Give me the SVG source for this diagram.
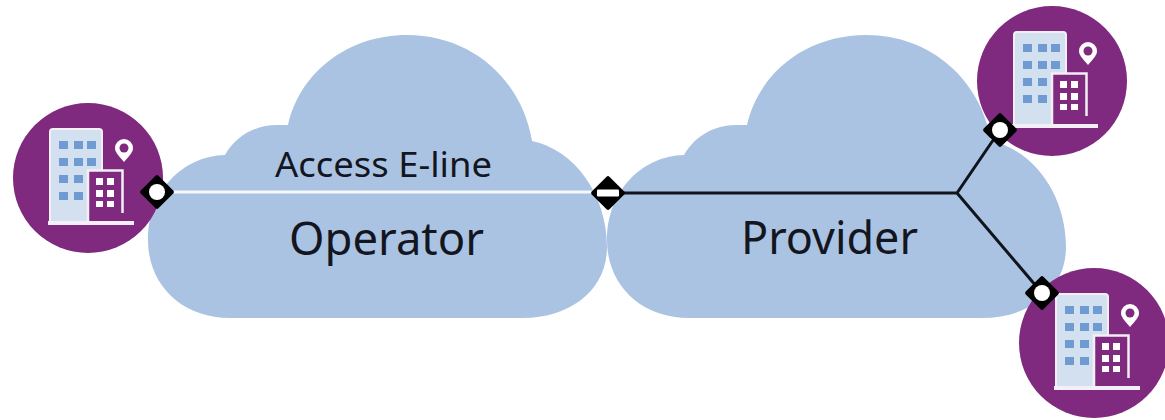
<svg xmlns="http://www.w3.org/2000/svg" width="1165" height="420" viewBox="0 0 1165 420">
<style>
.t{font-family:"Noto Sans","Liberation Sans",sans-serif;fill:#14161f}
.d{fill:#000}.w{fill:#fff}
.cl{fill:#abc3e2}
.win{fill:#6f9bd2}
</style>
<defs>
<path id="cloud" d="M230 318C182 318 148 285 148 240C148 192 182 156 225 155C236 136 255 125 277 125C281 125 285 125 288 125C300 72 348 35 407 35C472 35 522 80 532 141C575 150 607 195 607 247C607 290 570 318 523 318Z"/>
<g id="site">
<circle r="75" fill="#7f2a7e"/>
<rect x="-38" y="-49" width="52" height="95" rx="3" fill="#d3e0ef" stroke="#f4eef6" stroke-width="2"/>
<g class="win">
<rect x="-29" y="-37" width="9" height="8"/><rect x="-14" y="-37" width="9" height="8"/><rect x="-1" y="-37" width="9" height="8"/>
<rect x="-29" y="-20" width="9" height="8"/><rect x="-14" y="-20" width="9" height="8"/><rect x="-1" y="-20" width="9" height="8"/>
<rect x="-29" y="-3" width="9" height="8"/><rect x="-14" y="-3" width="9" height="8"/>
<rect x="-29" y="14" width="9" height="8"/><rect x="-14" y="14" width="9" height="8"/>
</g>
<rect x="0" y="-8" width="34" height="53" fill="#7f2a7e"/>
<path d="M0 45V-7.500H34.500V35" fill="none" stroke="#f4eef6" stroke-width="2.500"/>
<g fill="#fff">
<rect x="8" y="0" width="7" height="7"/><rect x="19" y="0" width="7" height="7"/>
<rect x="8" y="12" width="7" height="7"/><rect x="19" y="12" width="7" height="7"/>
<rect x="8" y="23" width="7" height="6"/><rect x="19" y="23" width="7" height="6"/>
</g>
<rect x="-40" y="43" width="86" height="4" fill="#f4eef6"/>
<path d="M36 -16C30 -23 27 -26 27 -30A9 9 0 0 1 45 -30C45 -26 42 -23 36 -16Z" fill="#fff"/>
<circle cx="36" cy="-30" r="4.500" fill="#7f2a7e"/>
</g>
<g id="port">
<rect x="-12.500" y="-12.500" width="25" height="25" rx="2" class="d" transform="rotate(45)"/>
<circle r="8" class="w"/>
</g>
</defs>
<g id="cloud-operator"><use href="#cloud" class="cl"/><text class="t" x="275" y="177" font-size="35" textLength="217" lengthAdjust="spacingAndGlyphs">Access E-line</text><text class="t" x="289" y="255" font-size="46" textLength="195" lengthAdjust="spacingAndGlyphs">Operator</text></g>
<g id="cloud-provider"><use href="#cloud" class="cl" x="459"/><text class="t" x="741" y="254" font-size="46" textLength="177" lengthAdjust="spacingAndGlyphs">Provider</text></g>
<g id="site-left"><use href="#site" x="88" y="178"/></g>
<g id="site-top"><use href="#site" x="1052" y="81"/></g>
<g id="site-bottom"><use href="#site" x="1094" y="343"/></g>
<g id="connectors" fill="none">
<path d="M160 192H600" stroke="#f4f7fb" stroke-width="3"/>
<path d="M612 193H957L1000 130M957 193L1042 293" stroke="#10141c" stroke-width="3"/>
</g>
<g id="port-left"><use href="#port" x="157" y="192"/></g>
<g id="port-mid"><rect x="-12.500" y="-12.500" width="25" height="25" rx="2" class="d" transform="translate(608 193) rotate(45)"/><rect x="597" y="189.500" width="22" height="7" rx="1" class="w"/></g>
<g id="port-top"><use href="#port" x="1000" y="130"/></g>
<g id="port-bottom"><use href="#port" x="1042" y="293"/></g>
</svg>
